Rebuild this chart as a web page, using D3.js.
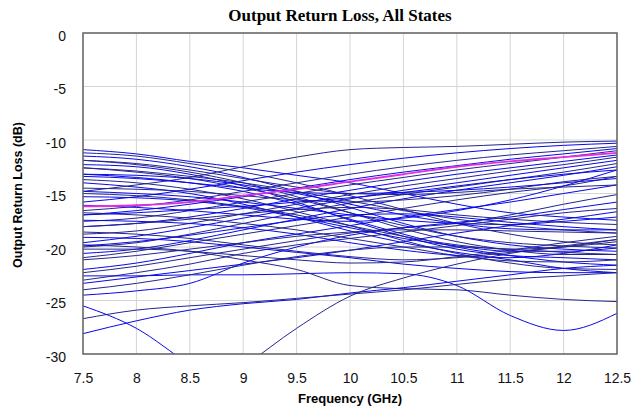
<!DOCTYPE html>
<meta charset="utf-8">

<!-- Load d3.js -->
<script src="https://d3js.org/d3.v7.min.js"></script>

<style>
  body { margin: 0; background: #fff; }
</style>

<!-- Create a div where the graph will take place -->
<div id="my_dataviz"></div>

<script>

  var freqs = [7.5, 8, 8.5, 9, 9.5, 10, 10.5, 11, 11.5, 12, 12.5];

  // axis ticks
  var xTicks = [7.5, 8, 8.5, 9, 9.5, 10, 10.5, 11, 11.5, 12, 12.5];
  var yTicks = [0, -5, -10, -15, -20, -25, -30];

  // blue states: return loss (dB) at each frequency above
  var blueStates = [
    [-10.9, -11.3, -12.0, -12.6, -13.3, -14.0, -15.0, -16.0, -16.8, -17.2, -17.5],
    [-11.2, -11.5, -12.2, -13.0, -14.0, -15.2, -16.5, -17.8, -18.8, -19.5, -19.8],
    [-11.5, -11.8, -12.5, -13.5, -14.8, -16.3, -17.8, -19.0, -19.8, -20.2, -20.4],
    [-11.9, -12.3, -13.0, -14.0, -15.3, -16.8, -18.3, -19.5, -20.3, -20.7, -20.7],
    [-12.3, -12.5, -13.2, -14.3, -15.8, -17.5, -19.0, -20.2, -20.8, -21.0, -21.2],
    [-12.6, -13.0, -13.6, -14.5, -15.5, -16.8, -18.0, -19.0, -19.6, -19.9, -20.1],
    [-13.2, -13.5, -14.0, -14.8, -16.0, -17.4, -18.8, -20.0, -20.8, -21.4, -21.7],
    [-13.7, -14.0, -14.6, -15.5, -16.7, -18.0, -19.4, -20.6, -21.5, -22.0, -22.1],
    [-14.0, -14.4, -15.0, -16.0, -17.2, -18.5, -19.6, -20.5, -21.2, -22.0, -22.4],
    [-14.8, -14.2, -13.5, -12.5, -11.6, -10.9, -10.7, -10.6, -10.4, -10.2, -10.1],
    [-15.8, -15.3, -14.6, -13.8, -13.0, -12.3, -11.7, -11.2, -10.8, -10.5, -10.3],
    [-16.6, -16.2, -15.6, -14.8, -14.0, -13.2, -12.5, -11.9, -11.4, -11.0, -10.6],
    [-17.0, -16.6, -16.0, -15.3, -14.5, -13.7, -13.0, -12.4, -11.8, -11.3, -10.8],
    [-17.6, -17.3, -16.6, -15.8, -15.0, -14.2, -13.5, -12.8, -12.2, -11.6, -11.0],
    [-18.1, -17.8, -17.2, -16.4, -15.5, -14.7, -13.9, -13.2, -12.6, -12.0, -11.4],
    [-18.8, -18.5, -17.8, -16.9, -16.0, -15.1, -14.3, -13.6, -12.9, -12.3, -11.6],
    [-19.6, -19.0, -18.2, -17.3, -16.4, -15.5, -14.7, -14.0, -13.3, -12.6, -11.9],
    [-20.0, -19.6, -18.8, -17.8, -16.8, -15.9, -15.1, -14.4, -13.7, -13.0, -12.2],
    [-20.6, -20.2, -19.4, -18.4, -17.4, -16.4, -15.5, -14.7, -14.0, -13.3, -12.5],
    [-21.0, -20.4, -19.6, -18.8, -18.0, -17.2, -16.4, -15.6, -14.9, -14.3, -13.4],
    [-22.1, -21.5, -20.6, -19.6, -18.8, -18.0, -17.2, -16.5, -15.8, -15.0, -14.2],
    [-22.4, -21.8, -21.0, -20.2, -19.4, -18.7, -18.2, -17.8, -17.0, -16.0, -15.1],
    [-24.5, -24.1, -23.4, -21.5, -20.0, -18.9, -18.2, -17.7, -17.2, -16.5, -15.8],
    [-23.1, -22.4, -21.6, -20.6, -19.8, -19.2, -18.6, -18.0, -17.4, -16.8, -16.4],
    [-23.4, -22.8, -22.2, -21.6, -21.0, -20.3, -19.5, -18.7, -18.0, -17.4, -16.7],
    [-14.5, -14.6, -14.8, -15.2, -15.6, -15.8, -15.6, -15.2, -14.6, -13.9, -13.4],
    [-14.8, -15.0, -15.3, -15.8, -16.4, -17.0, -17.5, -17.8, -17.9, -17.6, -17.2],
    [-15.0, -15.2, -15.6, -16.2, -17.0, -18.0, -19.0, -19.8, -20.2, -20.0, -19.5],
    [-16.1, -16.3, -16.6, -17.0, -17.4, -17.6, -17.3, -16.6, -15.6, -14.3, -12.8],
    [-16.8, -17.0, -17.3, -17.8, -18.4, -19.2, -20.0, -20.8, -21.3, -21.4, -21.2],
    [-17.5, -17.6, -17.8, -18.2, -18.8, -19.6, -20.3, -20.8, -21.0, -20.6, -19.8],
    [-18.6, -18.8, -19.2, -19.8, -20.4, -20.9, -21.2, -21.0, -20.5, -20.0, -19.3],
    [-19.1, -19.2, -19.5, -20.0, -20.5, -21.0, -21.6, -22.0, -22.3, -22.4, -22.4],
    [-20.2, -20.2, -20.4, -20.8, -21.2, -21.5, -21.4, -20.9, -20.3, -19.6, -19.0],
    [-22.7, -22.7, -22.6, -22.6, -22.5, -22.4, -22.5, -23.6, -26.4, -27.8, -26.2],
    [-19.8, -20.0, -20.4, -21.2, -22.1, -23.6, -23.9, -24.0, -24.5, -24.9, -25.1],
    [-28.1, -26.9, -25.9, -25.3, -24.9, -24.3, -23.8, -23.2, -22.6, -22.0, -21.7],
    [-26.7, -25.9, -25.5, -25.2, -24.8, -24.4, -24.0, -23.5, -23.0, -22.7, -22.4],
    [-25.5, -27.6, -31.0, -34.0, -36.0, -37.0, -37.0, -37.0, -37.0, -37.0, -37.0],
    [-40.0, -38.0, -34.5, -31.2, -27.6, -24.6, -22.9, -21.6, -20.6, -19.9, -19.3],
    [-13.4, -13.6, -14.0, -14.5, -14.9, -15.0, -14.9, -14.7, -14.4, -14.0, -13.6],
    [-12.6, -12.9, -13.4, -14.0, -14.8, -15.7, -16.6, -17.4, -18.0, -18.4, -18.7],
    [-17.0, -16.8, -16.5, -16.2, -15.8, -15.4, -14.9, -14.3, -13.7, -13.2, -12.8],
    [-18.1, -17.8, -17.4, -16.9, -16.5, -16.3, -16.5, -17.0, -17.4, -17.7, -17.9],
    [-19.9, -19.5, -18.9, -18.2, -17.5, -17.0, -16.9, -17.2, -17.7, -18.1, -18.4],
    [-21.2, -20.8, -20.2, -19.6, -19.0, -18.6, -18.4, -18.4, -18.5, -18.6, -18.7],
    [-15.3, -15.4, -15.7, -16.3, -17.2, -18.2, -19.2, -19.9, -20.4, -20.4, -20.1],
    [-24.0, -23.4, -22.6, -21.7, -20.9, -20.3, -20.0, -20.0, -20.2, -20.5, -20.7],
    [-13.2, -13.3, -13.6, -14.2, -15.0, -16.0, -17.0, -17.8, -18.3, -18.4, -18.4],
    [-11.9, -12.2, -12.8, -13.6, -14.4, -15.0, -15.1, -14.9, -14.6, -14.4, -14.2]
  ];

  // the one highlighted state (magenta)
  var pinkState = [-16.2, -16.1, -15.8, -15.2, -14.6, -13.9, -13.2, -12.5, -12.0, -11.6, -11.2];

  // set the dimensions and margins of the graph
  var margin = {top: 33, right: 25, bottom: 58, left: 83},
      width = 617 - margin.left,
      height = 354 - margin.top;

  // append the svg object to the body of the page
  var svgRoot = d3.select("#my_dataviz")
      .append("svg")
      .attr("width", 642)
      .attr("height", 412);

  var svg = svgRoot.append("g")
      .attr("transform", "translate(" + margin.left + "," + margin.top + ")");

  // scales
  var x = d3.scaleLinear().domain([7.5, 12.5]).range([0, width]);
  var y = d3.scaleLinear().domain([-30, 0]).range([height, 0]);

  // grid lines
  svg.append("g")
      .selectAll("line")
      .data(xTicks)
      .enter()
      .append("line")
      .attr("x1", function(d) { return x(d); })
      .attr("x2", function(d) { return x(d); })
      .attr("y1", 0)
      .attr("y2", height)
      .style("stroke", "#d4d4d4")
      .style("stroke-width", 1);

  svg.append("g")
      .selectAll("line")
      .data(yTicks)
      .enter()
      .append("line")
      .attr("x1", 0)
      .attr("x2", width)
      .attr("y1", function(d) { return y(d); })
      .attr("y2", function(d) { return y(d); })
      .style("stroke", "#d4d4d4")
      .style("stroke-width", 1);

  // axes (labels only, the frame is drawn below)
  var xAxis = svg.append("g")
      .attr("transform", "translate(0," + height + ")")
      .call(d3.axisBottom(x).tickValues(xTicks).tickSize(0).tickPadding(19)
            .tickFormat(function(d) { return d; }));
  xAxis.select(".domain").remove();
  xAxis.selectAll("text")
      .style("font-family", "'Liberation Sans', Arial, sans-serif")
      .style("font-size", "14px")
      .style("fill", "#111");

  var yAxis = svg.append("g")
      .call(d3.axisLeft(y).tickValues(yTicks).tickSize(0).tickPadding(17)
            .tickFormat(function(d) { return d; }));
  yAxis.select(".domain").remove();
  yAxis.selectAll("text")
      .attr("dy", "0.5em")
      .style("font-family", "'Liberation Sans', Arial, sans-serif")
      .style("font-size", "14px")
      .style("fill", "#111");

  // clip the traces to the plot area
  svg.append("clipPath")
      .attr("id", "plotclip")
      .append("rect")
      .attr("width", width)
      .attr("height", height);

  var line = d3.line()
      .x(function(d, i) { return x(freqs[i]); })
      .y(function(d) { return y(d); })
      .curve(d3.curveMonotoneX);

  var traces = svg.append("g").attr("clip-path", "url(#plotclip)");

  traces.selectAll(".blue")
      .data(blueStates)
      .enter()
      .append("path")
      .attr("class", "blue")
      .attr("d", line)
      .style("fill", "none")
      .style("stroke", function(d, i) { return i % 2 == 0 ? "#0808e8" : "#25258f"; })
      .style("stroke-width", 1);

  traces.append("path")
      .attr("d", line(pinkState))
      .style("fill", "none")
      .style("stroke", "#e030e0")
      .style("stroke-width", 1.8);

  // plot frame
  svg.append("rect")
      .attr("width", width)
      .attr("height", height)
      .style("fill", "none")
      .style("stroke", "#666")
      .style("stroke-width", 1.5);

  // Add title to graph
  svgRoot.append("text")
    .attr("x", 340)
    .attr("y", 21)
    .attr("text-anchor", "middle")
    .style("font-family", "'Liberation Serif', 'Times New Roman', serif")
    .style("font-weight", "bold")
    .style("font-size", "17px")
    .text("Output Return Loss, All States");

  // axis titles
  svgRoot.append("text")
    .attr("x", 350)
    .attr("y", 403)
    .attr("text-anchor", "middle")
    .style("font-family", "'Liberation Sans', Arial, sans-serif")
    .style("font-weight", "bold")
    .style("font-size", "13px")
    .text("Frequency (GHz)");

  svgRoot.append("text")
    .attr("transform", "translate(22,195) rotate(-90)")
    .attr("text-anchor", "middle")
    .style("font-family", "'Liberation Sans', Arial, sans-serif")
    .style("font-weight", "bold")
    .style("font-size", "12.5px")
    .text("Output Return Loss (dB)");
</script>
